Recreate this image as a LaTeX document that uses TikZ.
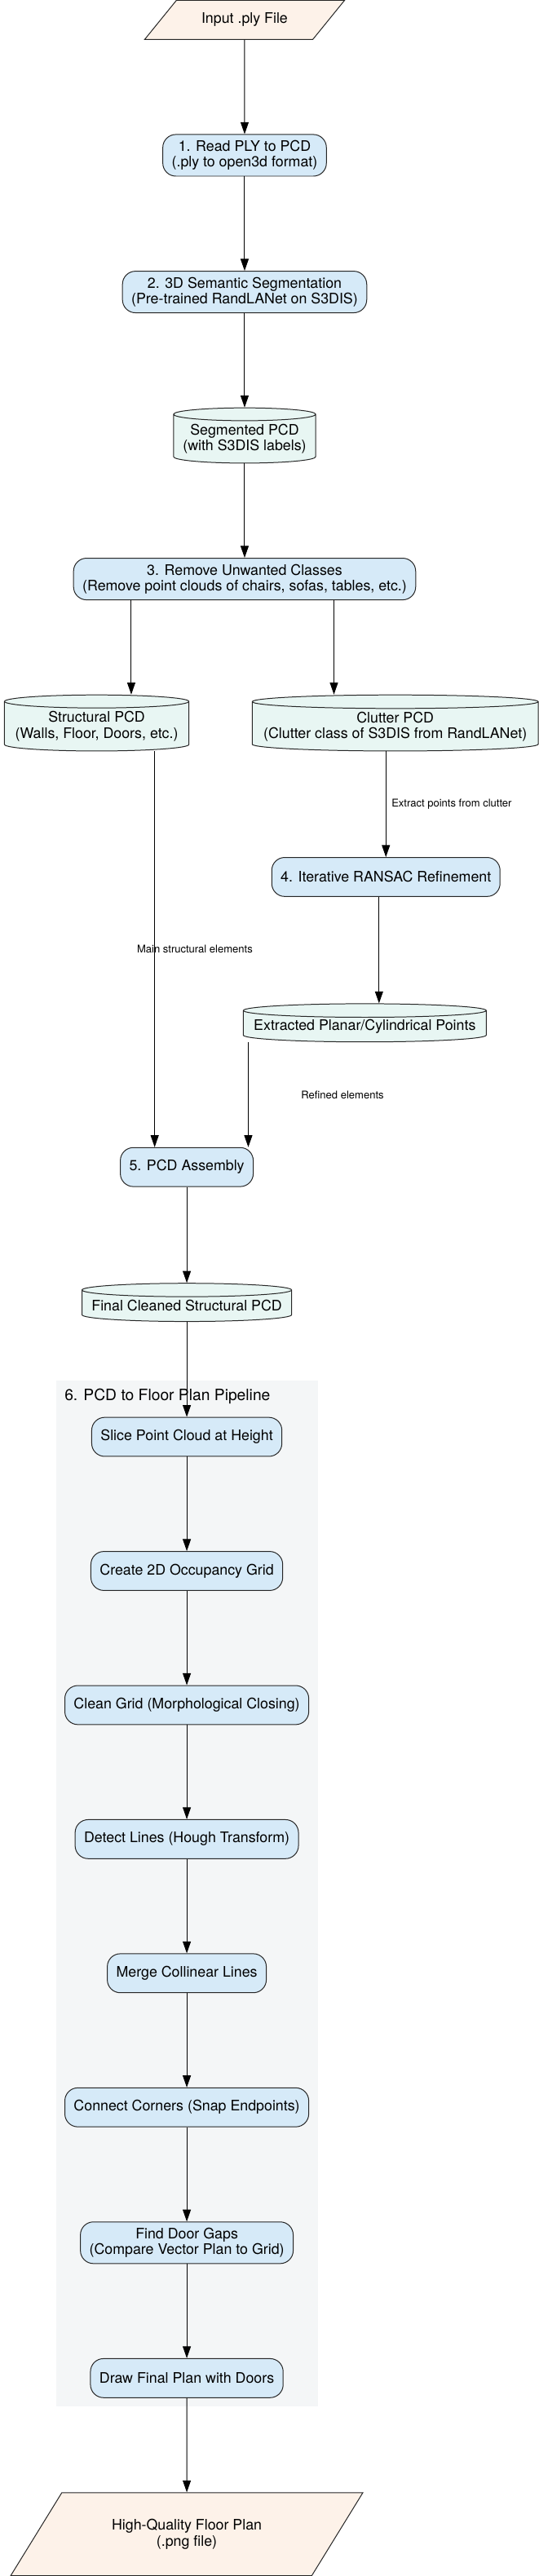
\documentclass[tikz,border=0pt]{standalone}
\usepackage{fontspec}
\setmainfont{TeX Gyre Heros}
\usetikzlibrary{calc, positioning, arrows.meta, shapes.geometric, fit, backgrounds}

\definecolor{iofill}{HTML}{FDF2E9}
\definecolor{stepfill}{HTML}{D6EAF8}
\definecolor{pcdfill}{HTML}{E8F6F3}
\definecolor{clusterfill}{HTML}{F4F6F7}

\begin{document}
\begin{tikzpicture}[
  stepbox/.style={draw=black!85, fill=stepfill, rounded corners=12pt, line width=0.75pt, minimum height=36pt, inner xsep=8.25pt, inner ysep=5.5pt, align=center, font=\fontsize{13.4}{14.5}\selectfont},
  pcd/.style={draw=black!85, fill=pcdfill, cylinder, shape border rotate=90, line width=0.75pt, inner sep=0pt, align=center, font=\fontsize{13.4}{14.5}\selectfont},
  io/.style={draw=black!85, fill=iofill, trapezium, trapezium stretches=true, line width=0.75pt, align=center, font=\fontsize{13.4}{14.5}\selectfont},
  arr/.style={-{Triangle[length=11pt, width=7.5pt]}, line width=0.75pt},
  elabel/.style={font=\fontsize{9.8}{11}\selectfont, inner sep=0pt},
  cluster/.style={fill=clusterfill, inner sep=7.9pt},
  node distance=87pt
]
\node (input) [io, minimum width=184.5pt, minimum height=36pt, trapezium left angle=44, trapezium right angle=136] {Input .ply File};
\node (read) [stepbox, below=of input] {1. Read PLY to PCD\\(.ply to open3d format)};
\node (segment) [stepbox, below=of read] {2. 3D Semantic Segmentation\\(Pre-trained RandLANet on S3DIS)};
\node (segpcd) [pcd, below=of segment, minimum width=131.25pt, minimum height=51pt, aspect=0.104] {Segmented PCD\\(with S3DIS labels)};
\node (remove) [stepbox, below=of segpcd] {3. Remove Unwanted Classes\\(Remove point clouds of chairs, sofas, tables, etc.)};
\node (struct) [pcd, below=of remove, xshift=-136.5pt, minimum width=170.25pt, minimum height=51.75pt, aspect=0.08] {Structural PCD\\(Walls, Floor, Doors, etc.)};
\node (clutter) [pcd, below=of remove, xshift=139pt, minimum width=264pt, minimum height=51.75pt, aspect=0.0515] {Clutter PCD\\(Clutter class of S3DIS from RandLANet)};
\node (ransac) [stepbox, below=97.5pt of clutter, xshift=-8.6pt] {4. Iterative RANSAC Refinement};
\node (planar) [pcd, below=98.25pt of ransac, xshift=-19.5pt, minimum width=224.25pt, minimum height=35.25pt, aspect=0.061] {Extracted Planar/Cylindrical Points};
\node (assembly) [stepbox, below=96.75pt of planar, xshift=-164.25pt] {5. PCD Assembly};
\node (final) [pcd, below=88.5pt of assembly, minimum width=193.5pt, minimum height=35.25pt, aspect=0.0705] {Final Cleaned Structural PCD};

% floor plan pipeline
\node (slice) [stepbox, below=87.75pt of final] {Slice Point Cloud at Height};
\node (grid) [stepbox, below=of slice] {Create 2D Occupancy Grid};
\node (closing) [stepbox, below=of grid] {Clean Grid (Morphological Closing)};
\node (hough) [stepbox, below=of closing] {Detect Lines (Hough Transform)};
\node (merge) [stepbox, below=of hough] {Merge Collinear Lines};
\node (corners) [stepbox, below=of merge] {Connect Corners (Snap Endpoints)};
\node (doors) [stepbox, below=of corners] {Find Door Gaps\\(Compare Vector Plan to Grid)};
\node (doorplan) [stepbox, below=of doors] {Draw Final Plan with Doors};
\node (output) [io, below=of doorplan, minimum width=325.5pt, minimum height=76.5pt, trapezium left angle=49, trapezium right angle=131] {High-Quality Floor Plan\\(.png file)};

\node (plabel) [anchor=base west, inner sep=0pt, font=\fontsize{14.5}{16}\selectfont] at ($(closing.west |- slice.north)+(0,15pt)$) {6. PCD to Floor Plan Pipeline};
\begin{scope}[on background layer]
  \node (pipeline) [cluster, fit=(plabel)(closing)(corners)(doorplan)] {};
\end{scope}

\useasboundingbox ($(input.center)+(-225.75pt,18pt)$) rectangle ++(497.25pt,-2369.25pt);

% vertical edges run through the middle of the overlap of two nodes
\coordinate (m1) at ($(remove.west)!.5!(struct.east)$);
\coordinate (m2) at ($(clutter.west)!.5!(remove.east)$);
\coordinate (m3) at ($(assembly.west)!.5!(struct.east)$);
\coordinate (m4) at ($(ransac.west)!.5!(ransac.east)$);
\coordinate (m5) at ($(ransac.west)!.5!(planar.east)$);
\coordinate (m6) at ($(planar.west)!.5!(assembly.east)$);

\draw[arr] (input) -- (read);
\draw[arr] (read) -- (segment);
\draw[arr] (segment) -- (segpcd);
\draw[arr] (segpcd) -- (remove);
\draw[arr] (m1 |- remove.south) -- (m1 |- struct.north);
\draw[arr] (m2 |- remove.south) -- (m2 |- clutter.north);
\draw[arr] (m3 |- struct.south) -- (m3 |- assembly.north) node[elabel, midway, xshift=37.1pt] {Main structural elements};
\draw[arr] (m4 |- clutter.south) -- (m4 |- ransac.north) node[elabel, midway, anchor=west, xshift=4.9pt] {Extract points from clutter};
\draw[arr] (m5 |- ransac.south) -- (m5 |- planar.north);
\draw[arr] (m6 |- planar.south) -- (m6 |- assembly.north) node[elabel, midway, xshift=87pt] {Refined elements};
\draw[arr] (assembly) -- (final);
\draw[arr] (final) -- (slice);
\draw[arr] (slice) -- (grid);
\draw[arr] (grid) -- (closing);
\draw[arr] (closing) -- (hough);
\draw[arr] (hough) -- (merge);
\draw[arr] (merge) -- (corners);
\draw[arr] (corners) -- (doors);
\draw[arr] (doors) -- (doorplan);
\draw[arr] (doorplan) -- (output);
\end{tikzpicture}
\end{document}
